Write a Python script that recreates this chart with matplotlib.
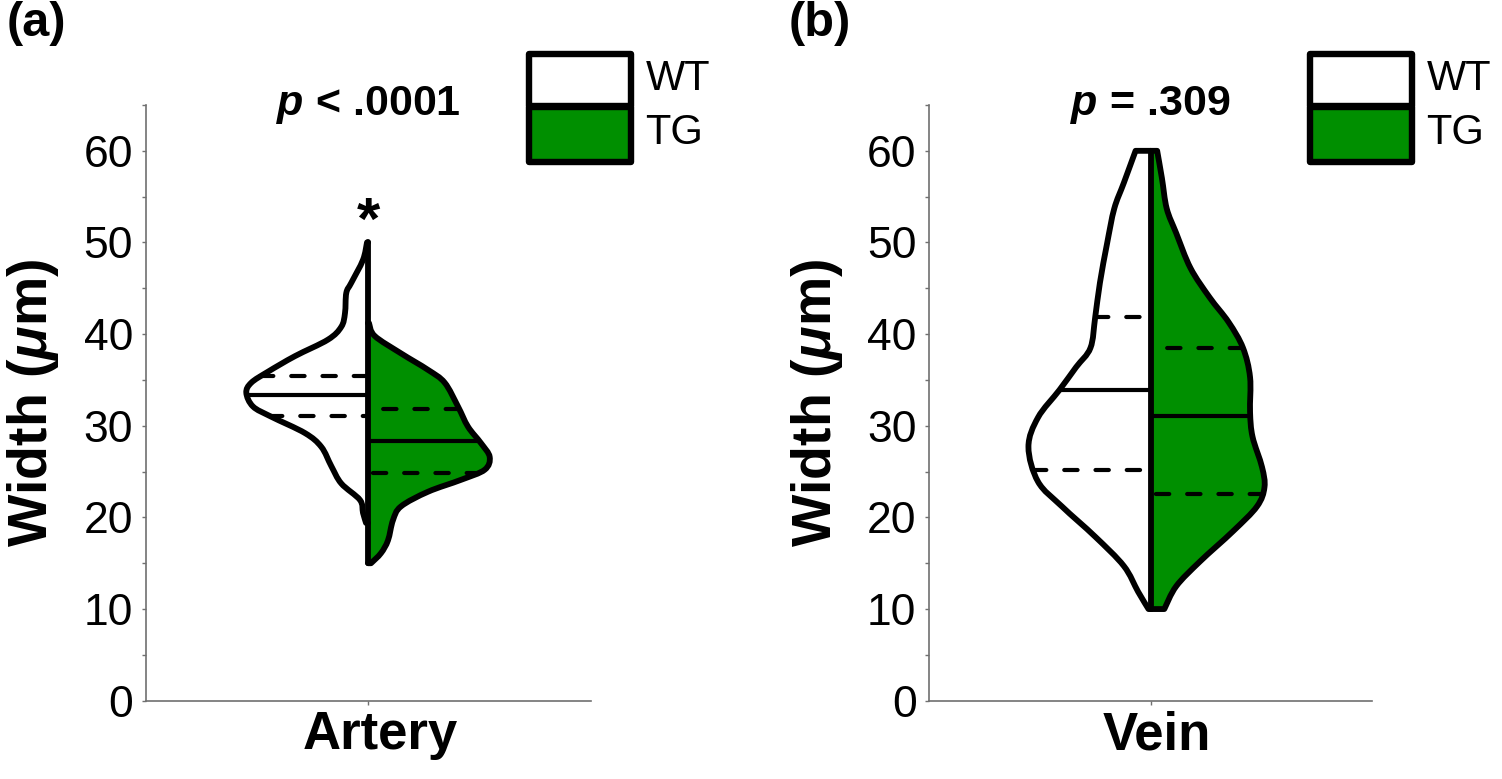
import numpy as np
import matplotlib
matplotlib.use("Agg")
import matplotlib.pyplot as plt
from matplotlib.patches import PathPatch, Rectangle
from matplotlib.path import Path
from matplotlib.ticker import MultipleLocator
from matplotlib.transforms import ScaledTranslation

plt.rcParams['font.family'] = ['Liberation Sans', 'DejaVu Sans']
plt.rcParams['mathtext.fontset'] = 'custom'
plt.rcParams['mathtext.it'] = 'Liberation Sans:italic:bold'
plt.rcParams['mathtext.rm'] = 'Liberation Sans:bold'
plt.rcParams['mathtext.bf'] = 'Liberation Sans:bold'

# ---------------- data ----------------
categories = ['Artery', 'Vein']
groups = ['WT', 'TG']
panel_tags = ['(a)', '(b)']
p_labels = ['$p$ < .0001', '$p$ = .309']
star_flags = [True, False]
y_ticks = [0, 10, 20, 30, 40, 50, 60]

# violin outlines: width levels (um) and relative density (half-width)
wt_a_y = [50.0, 48.1, 45.6, 44.5, 42.3, 40.8, 39.4, 37.6, 35.9, 34.7, 33.6, 32.1,
          31.0, 29.2, 27.7, 25.6, 23.7, 21.9, 20.5, 19.4]
wt_a_d = [1, 5, 16.7, 21.7, 23, 26.7, 40, 73, 100, 116.7, 121.7, 115,
          97, 63, 46.7, 36.7, 26.7, 8, 5, 2]
tg_a_y = [41.2, 39.8, 37.9, 36.1, 34.7, 32.1, 29.9, 28.1, 26.6, 25.2, 24.1, 22.8,
          21.2, 19.7, 17.5, 16.1, 15.0]
tg_a_d = [1, 6.7, 33, 60, 76.7, 90, 100, 113, 121.7, 116.7, 93, 60,
          33, 25, 20, 13, 3]
wt_b_y = [60.0, 56.5, 53.7, 49.9, 45.6, 41.8, 38.5, 36.4, 33.9, 30.9, 27.7, 23.9,
          21.2, 17.9, 14.7, 11.9, 10.0]
wt_b_d = [15, 26.8, 36.4, 43.6, 50.8, 55.6, 60.3, 74.7, 91.5, 113, 122.6, 113,
          89, 55.6, 26.8, 12.5, 2]
tg_b_y = [60.0, 57.0, 53.7, 51.0, 47.2, 44.0, 41.3, 38.5, 35.3, 31.5, 28.8, 25.5,
          23.3, 21.2, 18.5, 15.2, 12.5, 10.0]
tg_b_d = [6.7, 11.5, 16.3, 25.9, 40.2, 59.4, 78.5, 92.9, 100, 100, 102.5, 112,
          114.5, 107, 83, 49.8, 25.9, 13.9]

# quartiles (Q1, median, Q3)
wt_a_q = [31.1, 33.4, 35.4]
tg_a_q = [24.9, 28.3, 31.85]
wt_b_q = [25.2, 33.9, 41.9]
tg_b_q = [22.6, 31.1, 38.5]

# ---------------- style ----------------
GREEN = '#008F00'
SPINE = '#707070'
DENS_SCALE = 1 / 222.5
OUT_LW = 4.2
LEG_LW = 4.6
Q_LW = 3.0
DASH = (0, (3.2, 4.3))
W, H = 1502, 779

fig = plt.figure(figsize=(W / 100, H / 100), dpi=100)
axes_rect = [[145.5 / W, 78.3 / H, 445 / W, 595.7 / H],
             [929 / W, 78.3 / H, 443 / W, 595.7 / H]]
legend_left_px = [528.5, 1309.5]          # centre of the box border line
legend_rows_px = [(54.0, 105.5), (107.0, 161.5)]   # (top, bottom) of each box
legend_box_w_px = 102.5
legend_text_dx_px = 117
tag_pos = [(7 / W, 1 - 1 / H), (789 / W, 1 - 1 / H)]
ylabel_x = [-0.19, -0.19]
xlabel_shift_px = [12, 6]

panels = [
    (wt_a_y, wt_a_d, tg_a_y, tg_a_d, wt_a_q, tg_a_q),
    (wt_b_y, wt_b_d, tg_b_y, tg_b_d, wt_b_q, tg_b_q),
]


def smooth_outline(xs, ys):
    """Catmull-Rom through the read outline points, as cubic Bezier path pieces."""
    P = np.column_stack([xs, ys])
    Pm = np.vstack([P[0], P, P[-1]])
    verts, segs = [], []
    for i in range(len(P) - 1):
        p0, p1, p2, p3 = Pm[i], Pm[i + 1], Pm[i + 2], Pm[i + 3]
        c1 = p1 + (p2 - p0) / 6.0
        c2 = p2 - (p3 - p1) / 6.0
        verts += [c1, c2, p2]
        segs.append((p1, c1, c2, p2))
    return verts, segs


def bezier_samples(segs, n=40):
    t = np.linspace(0, 1, n)[:, None]
    pts = []
    for p1, c1, c2, p2 in segs:
        pts.append((1 - t) ** 3 * p1 + 3 * (1 - t) ** 2 * t * c1
                   + 3 * (1 - t) * t ** 2 * c2 + t ** 3 * p2)
    return np.vstack(pts)


def violin_half(ax, y, d, side, q, face):
    y = np.asarray(y, float)
    x = side * np.asarray(d, float) * DENS_SCALE
    cverts, segs = smooth_outline(x, y)
    verts = [(0, y[0]), (x[0], y[0])] + [tuple(v) for v in cverts] + [(0, y[-1])]
    codes = [Path.MOVETO, Path.LINETO] + [Path.CURVE4] * len(cverts) + [Path.LINETO]
    if face is not None:
        fverts = verts + [(0, y[0])]
        fcodes = codes + [Path.CLOSEPOLY]
        ax.add_patch(PathPatch(Path(fverts, fcodes), facecolor=face, lw=0, zorder=1))
    pts = bezier_samples(segs)
    order = np.argsort(pts[:, 1])
    for k, qv in enumerate(q):
        xe = np.interp(qv, pts[order, 1], pts[order, 0])
        ls = '-' if k == 1 else DASH
        ax.plot([xe, 0], [qv, qv], color='black', lw=Q_LW, ls=ls,
                solid_capstyle='butt', dash_capstyle='round', zorder=2)
    ax.add_patch(PathPatch(Path(verts, codes), facecolor='none', edgecolor='black',
                           lw=OUT_LW, joinstyle='round', capstyle='round', zorder=3))


for i, (wy, wd, ty, td, wq, tq) in enumerate(panels):
    ax = fig.add_axes(axes_rect[i])

    violin_half(ax, ty, td, +1, tq, GREEN)
    violin_half(ax, wy, wd, -1, wq, None)
    ax.plot([0, 0], [min(min(wy), min(ty)), max(max(wy), max(ty))],
            color='black', lw=OUT_LW, solid_capstyle='round', zorder=4)

    ax.set_xlim(-1, 1)
    ax.set_ylim(0, 65)
    for s in ['top', 'right']:
        ax.spines[s].set_visible(False)
    for s in ['left', 'bottom']:
        ax.spines[s].set_color(SPINE)
        ax.spines[s].set_linewidth(1.2)
    ax.set_yticks(y_ticks)
    ax.yaxis.set_minor_locator(MultipleLocator(5))
    ax.tick_params(axis='y', which='both', direction='out', length=3, width=1,
                   color=SPINE, labelsize=32, pad=6)
    ax.set_xticks([0], [categories[i]])
    ax.tick_params(axis='x', direction='out', length=3, width=1, color=SPINE,
                   labelsize=38, pad=4)
    for lab in ax.get_xticklabels():
        lab.set_fontweight('bold')
        lab.set_transform(lab.get_transform() +
                          ScaledTranslation(xlabel_shift_px[i] / 100, 0, fig.dpi_scale_trans))

    ax.set_ylabel('Width ($\\mu$m)', fontsize=40, fontweight='bold')
    ax.yaxis.set_label_coords(ylabel_x[i], 0.5)

    ax.text(0.5, 1.0, p_labels[i], transform=ax.transAxes, ha='center', va='center',
            fontsize=31, fontweight='bold')
    if star_flags[i]:
        ax.text(0, 50.4, '*', ha='center', va='baseline', fontsize=43, fontweight='bold')

    # legend: two stacked boxes with labels
    faces = ['white', GREEN]
    for g, (top, bot) in enumerate(legend_rows_px):
        x0 = legend_left_px[i]
        fig.add_artist(Rectangle((x0 / W, 1 - bot / H), legend_box_w_px / W, (bot - top) / H,
                                 transform=fig.transFigure, facecolor=faces[g],
                                 edgecolor='black', lw=LEG_LW, joinstyle='round'))
        fig.text((x0 + legend_text_dx_px) / W, 1 - (top + bot) / 2 / H + 1 / H, groups[g],
                 ha='left', va='center', fontsize=30)

    fig.text(tag_pos[i][0], tag_pos[i][1], panel_tags[i], ha='left', va='top',
             fontsize=35, fontweight='bold')

fig.savefig('out.png', dpi=100)
